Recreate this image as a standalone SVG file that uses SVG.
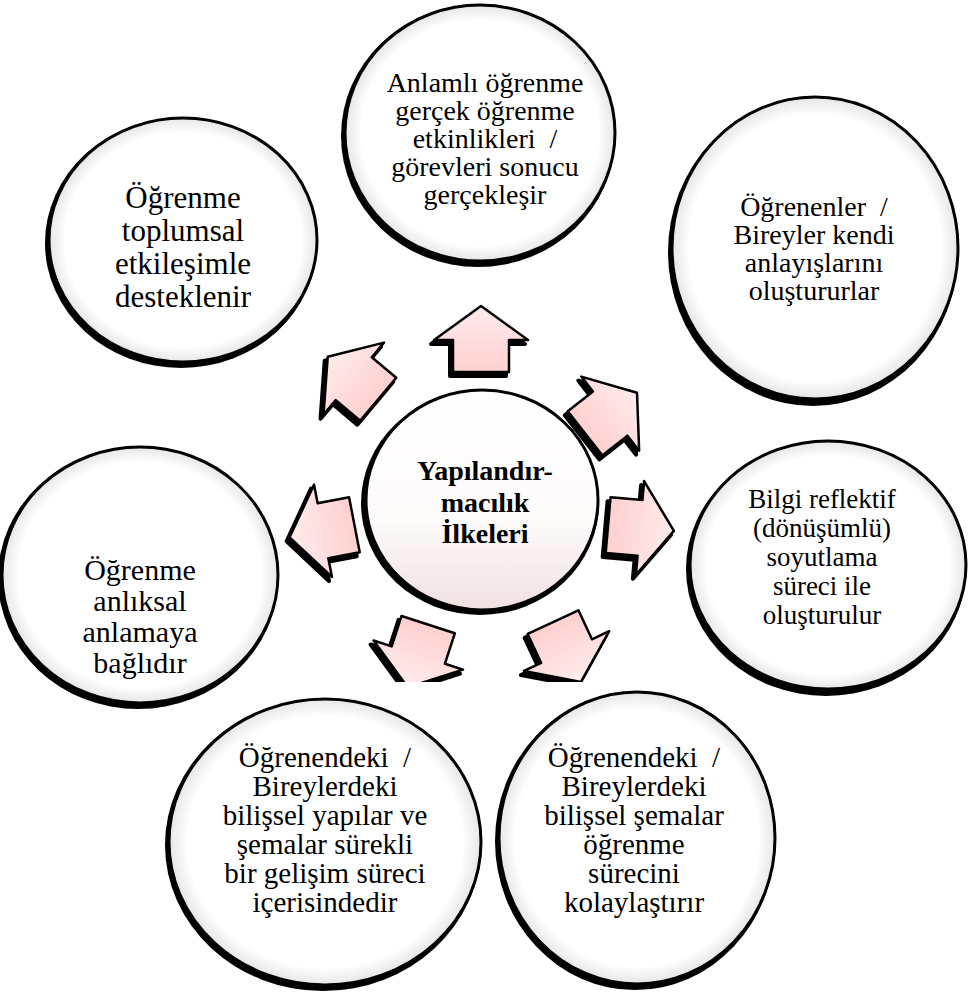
<svg xmlns="http://www.w3.org/2000/svg" xmlns:xlink="http://www.w3.org/1999/xlink" width="968" height="994" viewBox="0 0 968 994">
<defs>
<radialGradient id="cg" cx="50%" cy="50%" r="50%">
<stop offset="0" stop-color="#ffffff"/>
<stop offset="0.88" stop-color="#ffffff"/>
<stop offset="1" stop-color="#e6e6e6"/>
</radialGradient>
<linearGradient id="mg" x1="0" y1="0" x2="0" y2="1">
<stop offset="0" stop-color="#ffffff"/>
<stop offset="0.6" stop-color="#fdfafa"/>
<stop offset="1" stop-color="#f1e0e0"/>
</linearGradient>
<linearGradient id="ag" x1="0" y1="0" x2="0" y2="1">
<stop offset="0" stop-color="#ffecec"/>
<stop offset="1" stop-color="#ffcfcf"/>
</linearGradient>
<path id="ar" d="M0,-33 L47,1 L28,1 L28,33 L-28,33 L-28,1 L-47,1 Z"/>
<clipPath id="clipB"><rect x="0" y="0" width="968" height="682"/></clipPath>
</defs>
<style>
.sh{fill:#000}
.cir{fill:url(#cg);stroke:#000;stroke-width:3}
.mid{fill:url(#mg);stroke:#000;stroke-width:3}
.ash{fill:#000;stroke:#000;stroke-width:4;stroke-linejoin:round}
.arr{fill:url(#ag);stroke:#000;stroke-width:2.5;stroke-linejoin:round}
.t{font-family:"Liberation Serif","Times New Roman",serif;fill:#000;text-anchor:middle}
.b{font-weight:bold}
</style>

<g id="connectors">
  <g id="a-up">
    <use href="#ar" class="ash" transform="translate(478,343)"/>
    <use href="#ar" class="arr" transform="translate(481,339)"/>
  </g>
  <g id="a-upright">
    <use href="#ar" class="ash" transform="translate(608,417) rotate(52)"/>
    <use href="#ar" class="arr" transform="translate(611,413) rotate(52)"/>
  </g>
  <g id="a-right">
    <use href="#ar" class="ash" transform="translate(638,532) rotate(95)"/>
    <use href="#ar" class="arr" transform="translate(641,528) rotate(95)"/>
  </g>
  <g id="a-downright" clip-path="url(#clipB)">
    <use href="#ar" class="ash" transform="translate(564,656) rotate(155)"/>
    <use href="#ar" class="arr" transform="translate(567,652) rotate(155)"/>
  </g>
  <g id="a-downleft" clip-path="url(#clipB)">
    <use href="#ar" class="ash" transform="translate(415,660) rotate(198)"/>
    <use href="#ar" class="arr" transform="translate(418,656) rotate(198)"/>
  </g>
  <g id="a-left">
    <use href="#ar" class="ash" transform="translate(319,535) rotate(259)"/>
    <use href="#ar" class="arr" transform="translate(322,531) rotate(259)"/>
  </g>
  <g id="a-upleft">
    <use href="#ar" class="ash" transform="translate(350,382) rotate(-50)"/>
    <use href="#ar" class="arr" transform="translate(353,378) rotate(-50)"/>
  </g>
</g>

<g id="center">
  <ellipse class="sh" cx="480" cy="503" rx="119" ry="112"/>
  <ellipse class="mid" cx="482" cy="500" rx="116" ry="110"/>
  <text class="t b" font-size="28"><tspan x="485" y="480">Yapılandır-</tspan><tspan x="485" y="512">macılık</tspan><tspan x="485" y="543">İlkeleri</tspan></text>
</g>

<g id="n-top">
  <ellipse class="sh" cx="478" cy="136" rx="137" ry="131"/>
  <ellipse class="cir" cx="480" cy="133" rx="135" ry="128"/>
  <text class="t" font-size="28"><tspan x="485" y="92">Anlamlı öğrenme</tspan><tspan x="485" y="120">gerçek öğrenme</tspan><tspan x="485" y="148">etkinlikleri&#160; /</tspan><tspan x="485" y="176">görevleri sonucu</tspan><tspan x="485" y="204">gerçekleşir</tspan></text>
</g>

<g id="n-topleft">
  <ellipse class="sh" cx="181" cy="243" rx="136" ry="125"/>
  <ellipse class="cir" cx="183" cy="240" rx="134" ry="122"/>
  <text class="t" font-size="31"><tspan x="183" y="208">Öğrenme</tspan><tspan x="183" y="241">toplumsal</tspan><tspan x="183" y="274">etkileşimle</tspan><tspan x="183" y="307">desteklenir</tspan></text>
</g>

<g id="n-topright">
  <ellipse class="sh" cx="813" cy="252" rx="145" ry="154"/>
  <ellipse class="cir" cx="815" cy="248" rx="143" ry="151"/>
  <text class="t" font-size="28"><tspan x="814" y="216">Öğrenenler&#160; /</tspan><tspan x="814" y="244">Bireyler kendi</tspan><tspan x="814" y="272">anlayışlarını</tspan><tspan x="814" y="300">oluştururlar</tspan></text>
</g>

<g id="n-right">
  <ellipse class="sh" cx="826" cy="569" rx="140" ry="127"/>
  <ellipse class="cir" cx="828" cy="565" rx="138" ry="124"/>
  <text class="t" font-size="27"><tspan x="822" y="508">Bilgi reflektif</tspan><tspan x="822" y="537">(dönüşümlü)</tspan><tspan x="822" y="566">soyutlama</tspan><tspan x="822" y="595">süreci ile</tspan><tspan x="822" y="624">oluşturulur</tspan></text>
</g>

<g id="n-left">
  <ellipse class="sh" cx="138" cy="578" rx="140" ry="131"/>
  <ellipse class="cir" cx="140" cy="575" rx="138" ry="128"/>
  <text class="t" font-size="30"><tspan x="140" y="580">Öğrenme</tspan><tspan x="140" y="611">anlıksal</tspan><tspan x="140" y="642">anlamaya</tspan><tspan x="140" y="673">bağlıdır</tspan></text>
</g>

<g id="n-bottomleft">
  <ellipse class="sh" cx="323" cy="845" rx="158" ry="146"/>
  <ellipse class="cir" cx="325" cy="842" rx="156" ry="143"/>
  <text class="t" font-size="29"><tspan x="325" y="767">Öğrenendeki&#160; /</tspan><tspan x="325" y="796">Bireylerdeki</tspan><tspan x="325" y="825">bilişsel yapılar ve</tspan><tspan x="325" y="854">şemalar sürekli</tspan><tspan x="325" y="883">bir gelişim süreci</tspan><tspan x="325" y="912">içerisindedir</tspan></text>
</g>

<g id="n-bottomright">
  <ellipse class="sh" cx="635" cy="841" rx="140" ry="149"/>
  <ellipse class="cir" cx="637" cy="838" rx="138" ry="146"/>
  <text class="t" font-size="29"><tspan x="634" y="767">Öğrenendeki&#160; /</tspan><tspan x="634" y="796">Bireylerdeki</tspan><tspan x="634" y="825">bilişsel şemalar</tspan><tspan x="634" y="854">öğrenme</tspan><tspan x="634" y="883">sürecini</tspan><tspan x="634" y="912">kolaylaştırır</tspan></text>
</g>
</svg>
